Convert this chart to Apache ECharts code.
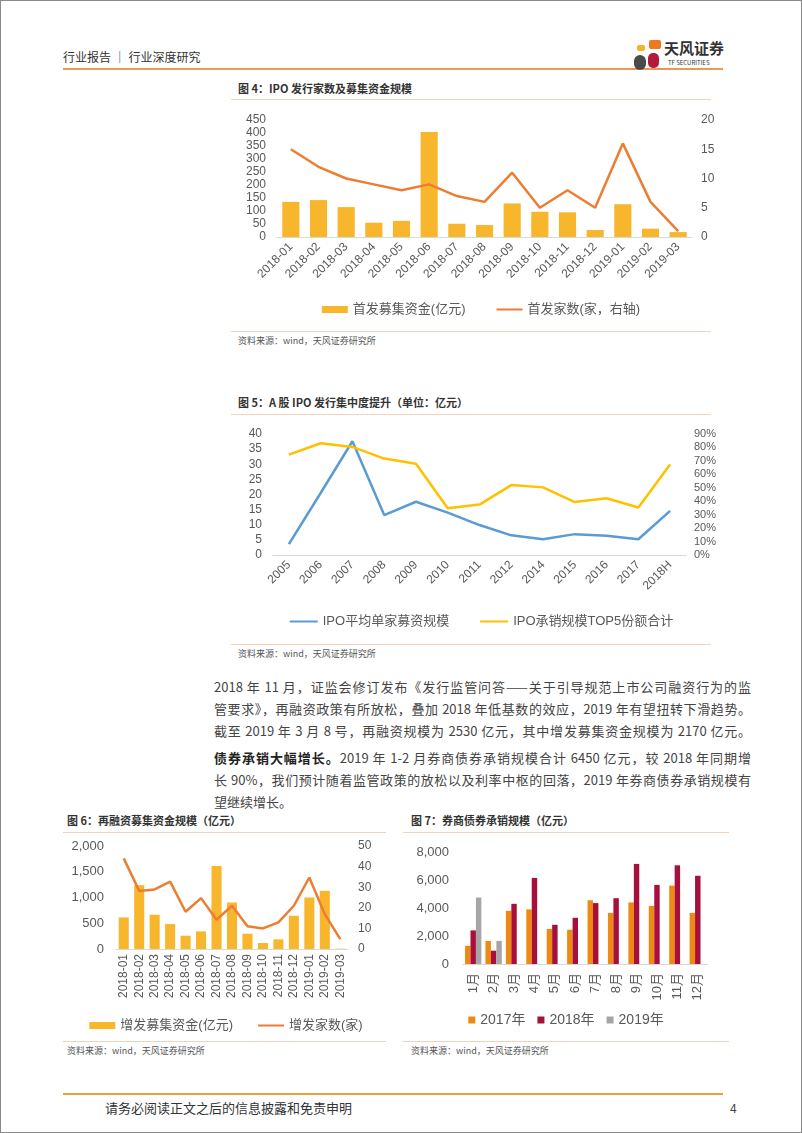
<!DOCTYPE html>
<html><head><meta charset="utf-8">
<script src="https://cdn.jsdelivr.net/npm/echarts@6/dist/echarts.min.js"></script>
<style>
html,body{margin:0;padding:0;background:#fff;}
#page{position:relative;width:802px;height:1133px;box-sizing:border-box;border:1px solid #8a8a8a;overflow:hidden;font-family:"Noto Sans CJK SC","Liberation Sans",sans-serif;color:#404040;}
.abs{position:absolute;}
.hline{position:absolute;height:0;}
.title{position:absolute;font-size:11px;font-weight:bold;color:#333;white-space:nowrap;line-height:14px;}
.src{position:absolute;font-size:9px;color:#555;white-space:nowrap;line-height:12px;}
.para{position:absolute;left:213px;width:537px;font-size:13px;line-height:22px;color:#444;}
.para div{text-align:justify;text-align-last:justify;white-space:nowrap;}
.para div.last{text-align-last:left;}
.chart{position:absolute;}
</style></head>
<body>
<div id="page">
  <!-- header -->
  <div class="abs" style="left:62px;top:48px;font-size:12px;color:#333;line-height:16px;white-space:nowrap;">行业报告 ｜ 行业深度研究</div>
  <div class="hline" style="left:62px;top:67px;width:660px;border-top:2px solid #E79A55;"></div>
  <div class="abs" style="left:636px;top:44px;width:8px;height:6px;background:#F6B323;border-radius:2px;"></div>
  <div class="abs" style="left:648px;top:39px;width:12px;height:9px;background:#EE7A1F;border-radius:2px;"></div>
  <div class="abs" style="left:633px;top:54px;width:12px;height:15px;background:#4a4a4a;border-radius:6px;"></div>
  <div class="abs" style="left:647px;top:52px;width:11px;height:15px;background:#B31B3C;border-radius:5px;"></div>
  <div class="abs" style="left:663px;top:38px;font-size:15px;font-weight:bold;color:#333;line-height:18px;white-space:nowrap;">天风证券</div>
  <div class="abs" style="left:667px;top:58px;font-size:6px;color:#333;line-height:8px;white-space:nowrap;">TF SECURITIES</div>

  <!-- figure 4 -->
  <div class="title" style="left:237px;top:80px;">图 4：IPO 发行家数及募集资金规模</div>
  <div class="hline" style="left:230px;top:98px;width:480px;border-top:1px solid #F1D3BC;"></div>
  <div class="hline" style="left:230px;top:330px;width:480px;border-top:1px solid #F1D3BC;"></div>
  <div class="src" style="left:237px;top:334px;">资料来源：wind，天风证券研究所</div>
  <div id="c4" class="chart" style="left:230px;top:100px;width:500px;height:225px;"></div>

  <!-- figure 5 -->
  <div class="title" style="left:237px;top:394px;">图 5：A 股 IPO 发行集中度提升（单位：亿元）</div>
  <div class="hline" style="left:230px;top:413px;width:480px;border-top:1px solid #F1D3BC;"></div>
  <div class="hline" style="left:230px;top:643px;width:480px;border-top:1px solid #F1D3BC;"></div>
  <div class="src" style="left:237px;top:647px;">资料来源：wind，天风证券研究所</div>
  <div id="c5" class="chart" style="left:230px;top:420px;width:500px;height:220px;"></div>

  <!-- text -->
  <div class="para" style="top:675px;">
    <div>2018 年 11 月，证监会修订发布《发行监管问答——关于引导规范上市公司融资行为的监</div>
    <div>管要求》，再融资政策有所放松，叠加 2018 年低基数的效应，2019 年有望扭转下滑趋势。</div>
    <div>截至 2019 年 3 月 8 号，再融资规模为 2530 亿元，其中增发募集资金规模为 2170 亿元。</div>
  </div>
  <div class="para" style="top:746px;">
    <div><b style="color:#222;">债券承销大幅增长。</b>2019 年 1-2 月券商债券承销规模合计 6450 亿元，较 2018 年同期增</div>
    <div>长 90%，我们预计随着监管政策的放松以及利率中枢的回落，2019 年券商债券承销规模有</div>
    <div class="last">望继续增长。</div>
  </div>

  <!-- figure 6 -->
  <div class="title" style="left:66px;top:812px;">图 6：再融资募集资金规模（亿元）</div>
  <div class="hline" style="left:62px;top:831px;width:323px;border-top:1px solid #F1D3BC;"></div>
  <div class="hline" style="left:62px;top:1040px;width:323px;border-top:1px solid #F1D3BC;"></div>
  <div class="src" style="left:66px;top:1044px;">资料来源：wind，天风证券研究所</div>
  <div id="c6" class="chart" style="left:55px;top:835px;width:340px;height:200px;"></div>

  <!-- figure 7 -->
  <div class="title" style="left:410px;top:812px;">图 7：券商债券承销规模（亿元）</div>
  <div class="hline" style="left:402px;top:831px;width:326px;border-top:1px solid #F1D3BC;"></div>
  <div class="hline" style="left:402px;top:1040px;width:326px;border-top:1px solid #F1D3BC;"></div>
  <div class="src" style="left:410px;top:1044px;">资料来源：wind，天风证券研究所</div>
  <div id="c7" class="chart" style="left:395px;top:835px;width:340px;height:200px;"></div>

  <!-- footer -->
  <div class="hline" style="left:62px;top:1092px;width:660px;border-top:2px solid #E8A23E;"></div>
  <div class="abs" style="left:104px;top:1098px;font-size:13px;color:#333;line-height:17px;white-space:nowrap;">请务必阅读正文之后的信息披露和免责申明</div>
  <div class="abs" style="left:729px;top:1098px;font-size:12px;color:#444;line-height:17px;">4</div>
</div>

<script>
// ---------- data ----------
const ipoMonths = ['2018-01','2018-02','2018-03','2018-04','2018-05','2018-06','2018-07','2018-08','2018-09','2018-10','2018-11','2018-12','2019-01','2019-02','2019-03'];
const ipoFunds = [135, 142, 115, 55, 62, 404, 51, 46, 129, 97, 95, 27, 126, 32, 19];
const ipoCount = [15, 12, 10, 9, 8, 9, 7, 6, 11, 5, 8, 5, 16, 6, 1];

const concYears = ['2005','2006','2007','2008','2009','2010','2011','2012','2014','2015','2016','2017','2018H'];
const avgIpoSize = [3.6, 20.5, 37.6, 13.2, 17.6, 14.0, 9.9, 6.5, 5.2, 6.9, 6.4, 5.2, 14.6];
const top5Share = [74.7, 83.1, 80.4, 71.7, 67.8, 34.8, 37.5, 52.0, 50.3, 39.4, 42.2, 35.3, 67.3];

const sppMonths = ['2018-01','2018-02','2018-03','2018-04','2018-05','2018-06','2018-07','2018-08','2018-09','2018-10','2018-11','2018-12','2019-01','2019-02','2019-03'];
const sppFunds = [613, 1239, 665, 484, 258, 342, 1613, 903, 297, 116, 187, 645, 1000, 1129, 6];
const sppCount = [44, 28.2, 28.9, 32.7, 18.1, 24.7, 14.2, 21, 11, 10, 12.9, 21, 34.7, 16.9, 4.8];

const bondMonths = ['1月','2月','3月','4月','5月','6月','7月','8月','9月','10月','11月','12月'];
const bond2017 = [1300, 1650, 3800, 3900, 2500, 2450, 4550, 3650, 4400, 4150, 5600, 3650];
const bond2018 = [2400, 950, 4300, 6150, 2800, 3300, 4350, 4700, 7150, 5650, 7050, 6300];
const bond2019 = [4750, 1650, null, null, null, null, null, null, null, null, null, null];

// ---------- common ----------
const FF = "'Liberation Sans','Noto Sans CJK SC',sans-serif";
const LBL = '#595959';
const AXL = '#D9D9D9';
function valAxis(min, max, interval, fs, margin, fmt) {
  return {
    type: 'value', min: min, max: max, interval: interval,
    axisLine: {show: false}, axisTick: {show: false}, splitLine: {show: false},
    axisLabel: {color: LBL, fontSize: fs, fontFamily: FF, margin: margin, formatter: fmt}
  };
}
function catAxis(data, rotate, fs, margin) {
  return {
    type: 'category', data: data,
    axisLine: {lineStyle: {color: AXL, width: 1}}, axisTick: {show: false},
    axisLabel: {color: LBL, fontSize: fs, fontFamily: FF, rotate: rotate, margin: margin, interval: 0}
  };
}
const legendText = {color: '#595959', fontSize: 13, fontFamily: FF};
const noSym = {opacity: 0, borderWidth: 0};

// ---------- figure 4 ----------
echarts.init(document.getElementById('c4')).setOption({
  animation: false,
  grid: {left: 46, right: 39, top: 19, bottom: 89},
  xAxis: catAxis(ipoMonths, 45, 12, 8),
  yAxis: [valAxis(0, 450, 50, 12, 11), valAxis(0, 20, 5, 12, 9)],
  legend: {top: 197, left: 'center', itemGap: 30, itemWidth: 26, itemHeight: 7, textStyle: legendText,
    data: [{name: '首发募集资金(亿元)', icon: 'rect'}, {name: '首发家数(家，右轴)', itemStyle: noSym}]},
  series: [
    {name: '首发募集资金(亿元)', type: 'bar', data: ipoFunds, barCategoryGap: '38%', itemStyle: {color: '#F8B62D'}},
    {name: '首发家数(家，右轴)', type: 'line', yAxisIndex: 1, data: ipoCount, symbol: 'none', lineStyle: {color: '#ED7D31', width: 2.5}, itemStyle: {color: '#ED7D31'}}
  ]
});

// ---------- figure 5 ----------
echarts.init(document.getElementById('c5')).setOption({
  animation: false,
  grid: {left: 42, right: 45, top: 13, bottom: 86},
  xAxis: catAxis(concYears, 45, 12, 8),
  yAxis: [valAxis(0, 40, 5, 12, 11), valAxis(0, 90, 10, 11, 8, '{value}%')],
  legend: {top: 189, left: 'center', itemGap: 30, itemWidth: 28, itemHeight: 7, textStyle: legendText,
    data: [{name: 'IPO平均单家募资规模', itemStyle: noSym}, {name: 'IPO承销规模TOP5份额合计', itemStyle: noSym}]},
  series: [
    {name: 'IPO平均单家募资规模', type: 'line', data: avgIpoSize, symbol: 'none', lineStyle: {color: '#5B9BD5', width: 2.5}, itemStyle: {color: '#5B9BD5'}},
    {name: 'IPO承销规模TOP5份额合计', type: 'line', yAxisIndex: 1, data: top5Share, symbol: 'none', lineStyle: {color: '#FFC000', width: 2.5}, itemStyle: {color: '#FFC000'}}
  ]
});

// ---------- figure 6 ----------
echarts.init(document.getElementById('c6')).setOption({
  animation: false,
  grid: {left: 60, right: 48, top: 10, bottom: 87},
  xAxis: catAxis(sppMonths, 90, 12, 5),
  yAxis: [valAxis(0, 2000, 500, 13, 12, v => v.toLocaleString('en-US')), valAxis(0, 50, 10, 12, 10)],
  legend: {top: 178, left: 'center', itemGap: 24, itemWidth: 26, itemHeight: 7, textStyle: legendText,
    data: [{name: '增发募集资金(亿元)', icon: 'rect'}, {name: '增发家数(家)', itemStyle: noSym}]},
  series: [
    {name: '增发募集资金(亿元)', type: 'bar', data: sppFunds, barCategoryGap: '35%', itemStyle: {color: '#F8B62D'}},
    {name: '增发家数(家)', type: 'line', yAxisIndex: 1, data: sppCount, symbol: 'none', lineStyle: {color: '#ED7D31', width: 2.5}, itemStyle: {color: '#ED7D31'}}
  ]
});

// ---------- figure 7 ----------
echarts.init(document.getElementById('c7')).setOption({
  animation: false,
  grid: {left: 67, right: 28, top: 16, bottom: 72},
  xAxis: catAxis(bondMonths, 90, 13, 9),
  yAxis: valAxis(0, 8000, 2000, 13, 14, v => v.toLocaleString('en-US')),
  legend: {top: 172, left: 'center', itemGap: 12, itemWidth: 7, itemHeight: 7, icon: 'rect',
    textStyle: {color: '#595959', fontSize: 14, fontFamily: FF},
    data: ['2017年', '2018年', '2019年']},
  series: [
    {name: '2017年', type: 'bar', data: bond2017, barGap: '0%', barCategoryGap: '20%', itemStyle: {color: '#EE8A12'}},
    {name: '2018年', type: 'bar', data: bond2018, barGap: '0%', barCategoryGap: '20%', itemStyle: {color: '#A8103C'}},
    {name: '2019年', type: 'bar', data: bond2019, barGap: '0%', barCategoryGap: '20%', itemStyle: {color: '#A6A6A6'}}
  ]
});
</script>
</body></html>
